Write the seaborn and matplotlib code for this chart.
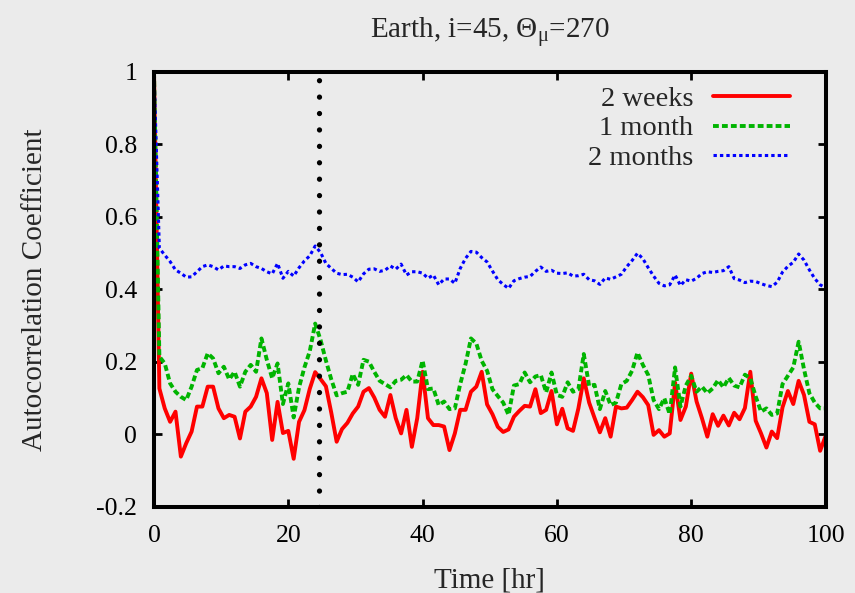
import numpy as np
import pandas as pd
import matplotlib
matplotlib.use("Agg")
import matplotlib.pyplot as plt
import seaborn as sns

# ---------------- data ----------------
lag_step_hr = 0.8

two_weeks = [
    1.0, 0.127, 0.072, 0.035, 0.063, -0.061, -0.024, 0.008, 0.077, 0.077,
    0.132, 0.132, 0.072, 0.045, 0.054, 0.049, -0.011, 0.063, 0.077, 0.104,
    0.155, 0.114, -0.015, 0.090, 0.004, 0.010, -0.067, 0.035, 0.067, 0.126,
    0.172, 0.153, 0.133, 0.060, -0.020, 0.015, 0.032, 0.058, 0.077, 0.118,
    0.128, 0.102, 0.068, 0.049, 0.109, 0.045, 0.003, 0.068, -0.034, 0.045,
    0.173, 0.045, 0.026, 0.026, 0.022, -0.043, 0.003, 0.068, 0.068, 0.118,
    0.132, 0.173, 0.083, 0.056, 0.021, 0.007, 0.014, 0.049, 0.065, 0.079,
    0.077, 0.125, 0.059, 0.068, 0.120, 0.028, 0.071, 0.017, 0.010, 0.072,
    0.155, 0.088, 0.046, 0.006, 0.045, -0.006, 0.077, 0.072, 0.074, 0.095,
    0.118, 0.103, 0.081, -0.001, 0.012, -0.006, 0.003, 0.143, 0.040, 0.077,
    0.168, 0.091, 0.045, -0.006, 0.056, 0.024, 0.052, 0.025, 0.060, 0.042,
    0.073, 0.173, 0.038, 0.003, -0.036, 0.008, -0.010, 0.075, 0.120, 0.084,
    0.148, 0.109, 0.035, 0.028, -0.045, -0.005,
]

one_month = [
    1.0, 0.215, 0.196, 0.141, 0.118, 0.104, 0.095, 0.132, 0.178, 0.183,
    0.224, 0.210, 0.169, 0.187, 0.152, 0.173, 0.132, 0.173, 0.192, 0.173,
    0.265, 0.206, 0.155, 0.196, 0.084, 0.141, 0.047, 0.130, 0.185, 0.230,
    0.306, 0.261, 0.204, 0.152, 0.108, 0.114, 0.118, 0.167, 0.137, 0.206,
    0.201, 0.173, 0.148, 0.139, 0.130, 0.148, 0.151, 0.164, 0.146, 0.146,
    0.204, 0.125, 0.127, 0.081, 0.091, 0.070, 0.072, 0.139, 0.195, 0.265,
    0.251, 0.203, 0.176, 0.125, 0.106, 0.088, 0.054, 0.135, 0.139, 0.171,
    0.144, 0.160, 0.164, 0.116, 0.171, 0.109, 0.104, 0.144, 0.118, 0.125,
    0.222, 0.134, 0.137, 0.070, 0.120, 0.081, 0.088, 0.139, 0.148, 0.176,
    0.226, 0.192, 0.164, 0.095, 0.070, 0.100, 0.056, 0.185, 0.077, 0.135,
    0.162, 0.118, 0.132, 0.114, 0.127, 0.150, 0.130, 0.156, 0.135, 0.130,
    0.165, 0.155, 0.105, 0.063, 0.072, 0.054, 0.058, 0.139, 0.162, 0.185,
    0.256, 0.180, 0.114, 0.088, 0.072, 0.072,
]

two_months = [
    1.0, 0.514, 0.495, 0.477, 0.454, 0.445, 0.434, 0.435, 0.449, 0.463,
    0.468, 0.463, 0.454, 0.465, 0.463, 0.463, 0.458, 0.468, 0.472, 0.463,
    0.458, 0.449, 0.443, 0.472, 0.431, 0.450, 0.437, 0.460, 0.479, 0.493,
    0.520, 0.502, 0.472, 0.458, 0.445, 0.441, 0.442, 0.434, 0.421, 0.443,
    0.456, 0.457, 0.450, 0.453, 0.465, 0.456, 0.470, 0.440, 0.449, 0.449,
    0.445, 0.431, 0.440, 0.413, 0.429, 0.429, 0.417, 0.458, 0.486, 0.505,
    0.503, 0.488, 0.476, 0.451, 0.427, 0.414, 0.403, 0.424, 0.430, 0.434,
    0.436, 0.450, 0.462, 0.450, 0.453, 0.445, 0.444, 0.446, 0.437, 0.438,
    0.442, 0.427, 0.424, 0.414, 0.432, 0.428, 0.435, 0.442, 0.463, 0.480,
    0.500, 0.485, 0.460, 0.437, 0.417, 0.410, 0.413, 0.440, 0.411, 0.427,
    0.423, 0.431, 0.444, 0.449, 0.447, 0.450, 0.452, 0.463, 0.430, 0.426,
    0.419, 0.423, 0.422, 0.416, 0.411, 0.408, 0.420, 0.448, 0.464, 0.475,
    0.498, 0.481, 0.454, 0.430, 0.413, 0.405,
]

time_hr = np.round(np.arange(len(two_weeks)) * lag_step_hr, 2)

series_names = ["2 weeks", "1 month", "2 months"]
series_values = [two_weeks, one_month, two_months]

day_marker_hr = 24.5

x_ticks = [0, 20, 40, 60, 80, 100]
x_tick_labels = ["0", "20", "40", "60", "80", "100"]
y_ticks = [-0.2, 0.0, 0.2, 0.4, 0.6, 0.8, 1.0]
y_tick_labels = ["-0.2", "0", "0.2", "0.4", "0.6", "0.8", "1"]

title_text = r"Earth, i=45, $\Theta_{\mathrm{\mu}}$=270"

# ---------------- styling ----------------
bg = "#ebebeb"
colors = ["#ff0000", "#00b400", "#0000ff"]
widths = [2.8, 2.8, 2.2]
dash_patterns = [None, (1.5, 0.8), (1.1, 1.0)]

sns.set_style("ticks")
plt.rcParams["font.family"] = ["Liberation Serif", "DejaVu Serif"]
plt.rcParams["mathtext.fontset"] = "custom"
plt.rcParams["mathtext.rm"] = "Liberation Serif"
plt.rcParams["mathtext.it"] = "Liberation Serif:italic"
plt.rcParams["mathtext.bf"] = "Liberation Serif:bold"

fig = plt.figure(figsize=(8.55, 5.93), dpi=100, facecolor=bg)
ax = fig.add_axes([0.18012, 0.14503, 0.78538, 0.73356])
ax.set_facecolor(bg)

df = pd.DataFrame({
    "time": np.concatenate([time_hr] * len(series_names)),
    "value": np.concatenate([np.asarray(v) for v in series_values]),
    "series": np.repeat(series_names, len(time_hr)),
})

handles = []
for name, col, lw, dp in zip(series_names, colors, widths, dash_patterns):
    sub = df[df["series"] == name]
    sns.lineplot(data=sub, x="time", y="value", ax=ax, color=col, lw=lw,
                 label=name, estimator=None, sort=False)
    line = ax.lines[-1]
    if dp is not None:
        line.set_dashes(dp)
        line.set_dash_capstyle("butt")
    handles.append(line)

ax.axvline(day_marker_hr, color="black", lw=3.8, dashes=(0.01, 3.1),
           dash_capstyle="round", zorder=6)

ax.set_xlim(0, 100)
ax.set_ylim(-0.2, 1.0)
ax.set_xticks(x_ticks)
ax.set_xticklabels(x_tick_labels)
ax.set_yticks(y_ticks)
ax.set_yticklabels(y_tick_labels)
ax.tick_params(axis="both", direction="in", length=6, width=2,
               top=True, right=True, labelsize=18.5, colors="black")
ax.tick_params(axis="y", pad=12)
ax.tick_params(axis="x", pad=13)
ax.grid(False)

for sp in ax.spines.values():
    sp.set_visible(True)
    sp.set_linewidth(2.9)
    sp.set_color("black")

ax.set_xlabel("Time [hr]", fontsize=21)
ax.set_ylabel("Autocorrelation Coefficient", fontsize=21)
ax.xaxis.set_label_coords(0.5, -0.138)
ax.yaxis.set_label_coords(-0.158, 0.5)

ax.set_title(title_text, fontsize=21, y=1.092, va="center", pad=0)

leg = ax.legend(handles, series_names, loc="upper right",
                bbox_to_anchor=(0.947, 0.968), frameon=False,
                markerfirst=False, handlelength=2.7, handletextpad=0.7,
                labelspacing=0.13, borderaxespad=0, borderpad=0,
                fontsize=20.5)

fig.savefig("out.png", dpi=100, facecolor=fig.get_facecolor())
